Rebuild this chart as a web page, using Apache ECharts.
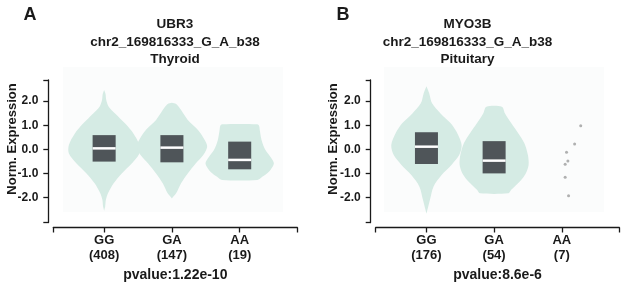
<!DOCTYPE html>
<html>
<head>
<meta charset="utf-8">
<script src="https://cdn.jsdelivr.net/npm/echarts@6/dist/echarts.min.js"></script>
<style>
html,body{margin:0;padding:0;background:#fff;}
#chart{width:629px;height:287px;}
</style>
</head>
<body>
<div id="chart"></div>
<script>
// genotypes and sample counts
var categories = ['GG', 'GA', 'AA'];
var countsA = [408, 147, 19];
var countsB = [176, 54, 7];
var yTicks = [-2, -1, 0, 1, 2];

// violin outlines: [expression, relative half width]
var violinA_GG = [[2.46,0],[2.3,0.04],[2.05,0.06],[1.77,0.13],[1.49,0.31],[1.08,0.59],[0.66,0.83],[0.18,1.0],[-0.17,1.0],[-0.58,0.79],[-1.0,0.5],[-1.41,0.27],[-1.83,0.11],[-2.1,0.05],[-2.38,0.03],[-2.55,0]];
var violinA_GA = [[1.93,0],[1.88,0.12],[1.63,0.26],[1.22,0.45],[0.8,0.74],[0.39,0.93],[0.11,1.0],[-0.24,0.89],[-0.58,0.68],[-1.0,0.45],[-1.41,0.26],[-1.83,0.12],[-2.04,0]];
var violinA_AA = [[1.04,0.5],[0.98,0.55],[0.8,0.57],[0.39,0.62],[-0.03,0.73],[-0.37,0.9],[-0.6,0.97],[-0.93,0.83],[-1.14,0.64],[-1.27,0.5]];
var violinB_GG = [[2.62,0],[2.32,0.08],[1.91,0.16],[1.49,0.4],[1.08,0.69],[0.66,0.88],[0.18,1.0],[-0.24,0.93],[-0.65,0.71],[-1.07,0.43],[-1.55,0.2],[-2.1,0.1],[-2.68,0]];
var violinB_GA = [[1.77,0.22],[1.49,0.31],[1.08,0.49],[0.66,0.69],[0.25,0.86],[-0.24,0.96],[-0.65,0.98],[-1.0,0.9],[-1.34,0.73],[-1.69,0.48],[-1.83,0.4]];

// boxes: [category position, q1, median, q3]
var boxesA = [[1,-0.51,0.04,0.59],[2,-0.54,0.07,0.59],[3,-0.83,-0.44,0.32]];
var boxesB = [[1,-0.61,0.11,0.71],[2,-1.0,-0.47,0.34]];

// AA in panel B has only 7 samples, shown as points
var pointsB_AA = [[3.28,0.98],[3.19,0.22],[3.07,-0.12],[3.09,-0.49],[3.05,-0.62],[3.05,-1.16],[3.1,-1.93]];

var violinsA = [violinA_GG, violinA_GA, violinA_AA];
var violinsB = [violinB_GG, violinB_GA];

var FONT = '"Liberation Sans", Arial, sans-serif';
var INK = '#1a1a1a';
var VIOLIN = '#d5ebe4';
var BOX = '#4f5559';
var HALF = 0.52;   // max violin half width (x units)
var BOXHALF = 0.17;

var myChart = echarts.init(document.getElementById('chart'));

function violinSeries(gridIdx, profiles) {
    return {
        type: 'custom',
        xAxisIndex: gridIdx, yAxisIndex: gridIdx,
        data: profiles.map(function (p, i) { return [i + 1, 0]; }),
        renderItem: function (params, api) {
            var prof = profiles[params.dataIndex];
            var cx = api.value(0);
            var pts = [];
            for (var i = 0; i < prof.length; i++) {
                pts.push(api.coord([cx - prof[i][1] * HALF, prof[i][0]]));
            }
            for (var j = prof.length - 1; j >= 0; j--) {
                pts.push(api.coord([cx + prof[j][1] * HALF, prof[j][0]]));
            }
            return {
                type: 'polygon',
                shape: { points: pts, smooth: 0.3 },
                style: { fill: VIOLIN }
            };
        },
        silent: true,
        z: 2
    };
}

function boxSeries(gridIdx, boxes) {
    return {
        type: 'custom',
        xAxisIndex: gridIdx, yAxisIndex: gridIdx,
        data: boxes,
        renderItem: function (params, api) {
            var cx = api.value(0);
            var tl = api.coord([cx - BOXHALF, api.value(3)]);
            var br = api.coord([cx + BOXHALF, api.value(1)]);
            var ml = api.coord([cx - BOXHALF, api.value(2)]);
            var mr = api.coord([cx + BOXHALF, api.value(2)]);
            return {
                type: 'group',
                children: [
                    { type: 'rect', shape: { x: tl[0], y: tl[1], width: br[0] - tl[0], height: br[1] - tl[1] }, style: { fill: BOX } },
                    { type: 'line', shape: { x1: ml[0], y1: ml[1], x2: mr[0], y2: mr[1] }, style: { stroke: '#fff', lineWidth: 2.5 } }
                ]
            };
        },
        silent: true,
        z: 3
    };
}

function xAxisFor(gridIdx, counts, pv) {
    return {
        gridIndex: gridIdx, type: 'value', min: 0.25, max: 3.85, offset: 5,
        axisLine: { onZero: false, lineStyle: { color: INK, width: 1.3 } },
        axisTick: { show: true, length: 5, customValues: [0.25, 1, 2, 3, 3.85], lineStyle: { color: INK, width: 1.3 } },
        axisLabel: {
            customValues: [1, 2, 3],
            formatter: function (v) { return categories[v - 1] + '\n(' + counts[v - 1] + ')'; },
            color: INK, fontFamily: FONT, fontWeight: 'bold', fontSize: 13, lineHeight: 15, margin: 5
        },
        splitLine: { show: false },
        name: pv, nameLocation: 'middle', nameGap: 41,
        nameTextStyle: { color: INK, fontFamily: FONT, fontWeight: 'bold', fontSize: 14 }
    };
}

function yAxisFor(gridIdx) {
    return {
        gridIndex: gridIdx, type: 'value', min: -3.04, max: 2.88, offset: 5,
        axisLine: { show: true, onZero: false, lineStyle: { color: INK, width: 1.3 } },
        axisTick: { show: true, length: 5, customValues: [-3.04, -2, -1, 0, 1, 2, 2.88], lineStyle: { color: INK, width: 1.3 } },
        axisLabel: {
            customValues: yTicks,
            formatter: function (v) { return v.toFixed(1); },
            color: INK, fontFamily: FONT, fontWeight: 'bold', fontSize: 12, margin: 10
        },
        splitLine: { show: false }
    };
}

function label(x, y, txt, size, extra) {
    var o = {
        type: 'text', x: x, y: y,
        style: { text: txt, fill: INK, fontFamily: FONT, fontWeight: 'bold', fontSize: size, align: 'center', verticalAlign: 'middle' }
    };
    for (var k in extra) o[k] = extra[k];
    return o;
}

var option = {
    animation: false,
    backgroundColor: '#fff',
    grid: [
        { left: 53.3, top: 80, width: 244, height: 142.5 },
        { left: 375.7, top: 80, width: 243.6, height: 142.5 }
    ],
    xAxis: [xAxisFor(0, countsA, 'pvalue:1.22e-10'), xAxisFor(1, countsB, 'pvalue:8.6e-6')],
    yAxis: [yAxisFor(0), yAxisFor(1)],
    graphic: [
        // faint plot backgrounds
        { type: 'rect', z: -10, shape: { x: 63, y: 67, width: 220, height: 145 }, style: { fill: '#fbfcfc' } },
        { type: 'rect', z: -10, shape: { x: 384, y: 67, width: 220, height: 145 }, style: { fill: '#fbfcfc' } },
        label(30, 15.5, 'A', 18),
        label(343, 15.5, 'B', 18),
        { type: 'text', x: 175, y: 16, style: { text: 'UBR3\nchr2_169816333_G_A_b38\nThyroid', fill: INK, fontFamily: FONT, fontWeight: 'bold', fontSize: 13.5, lineHeight: 17.5, align: 'center', verticalAlign: 'top' } },
        { type: 'text', x: 467.5, y: 16, style: { text: 'MYO3B\nchr2_169816333_G_A_b38\nPituitary', fill: INK, fontFamily: FONT, fontWeight: 'bold', fontSize: 13.5, lineHeight: 17.5, align: 'center', verticalAlign: 'top' } },
        label(12, 139, 'Norm. Expression', 13, { rotation: Math.PI / 2 }),
        label(333, 139, 'Norm. Expression', 13, { rotation: Math.PI / 2 })
    ],
    series: [
        violinSeries(0, violinsA),
        violinSeries(1, violinsB),
        boxSeries(0, boxesA),
        boxSeries(1, boxesB),
        {
            type: 'scatter', xAxisIndex: 1, yAxisIndex: 1,
            data: pointsB_AA, symbolSize: 3,
            itemStyle: { color: '#9c9c9c' },
            silent: true
        }
    ]
};
myChart.setOption(option);
</script>
</body>
</html>
